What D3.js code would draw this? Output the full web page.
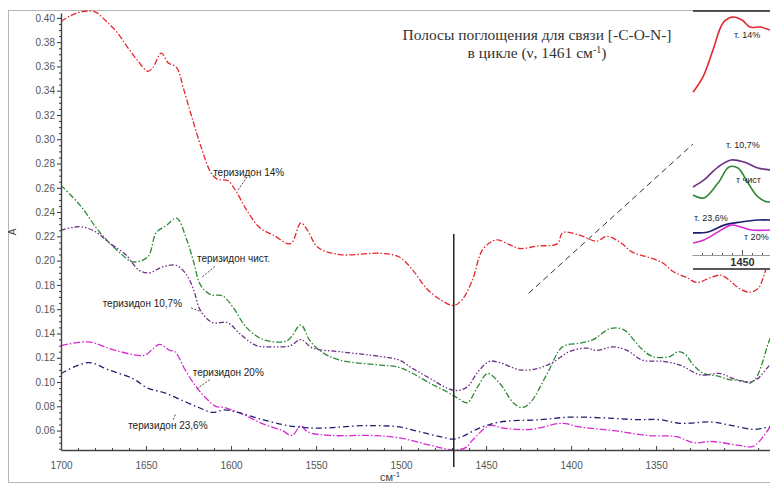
<!DOCTYPE html>
<html><head><meta charset="utf-8">
<script src="https://cdn.jsdelivr.net/npm/d3@7"></script>
<style>body{margin:0;background:#fff}</style>
</head><body><svg id="c" width="770" height="484"></svg>
<script>
// ---- data (wavenumber cm-1, absorbance A) ----
const xTicks = [1700,1650,1600,1550,1500,1450,1400,1350];
const yTicks = [0.06,0.08,0.10,0.12,0.14,0.16,0.18,0.20,0.22,0.24,0.26,0.28,0.30,0.32,0.34,0.36,0.38,0.40];

const ter14 = [[1700,0.397],[1694,0.402],[1688,0.405],[1680,0.405],[1674,0.398],[1667,0.388],[1661,0.376],[1655,0.365],[1649,0.356],[1646,0.359],[1641,0.371],[1637,0.363],[1632,0.359],[1628,0.342],[1623,0.318],[1617,0.291],[1612,0.273],[1608,0.267],[1602,0.266],[1597,0.257],[1591,0.242],[1583,0.227],[1575,0.221],[1565,0.214],[1559,0.231],[1555,0.225],[1549,0.211],[1536,0.205],[1512,0.206],[1501,0.203],[1493,0.192],[1485,0.177],[1477,0.168],[1469,0.163],[1464,0.168],[1458,0.184],[1452,0.209],[1444,0.217],[1436,0.213],[1430,0.210],[1420,0.212],[1408,0.214],[1405,0.223],[1395,0.221],[1385,0.216],[1379,0.220],[1371,0.215],[1364,0.207],[1355,0.203],[1346,0.198],[1340,0.191],[1332,0.186],[1326,0.182],[1318,0.186],[1312,0.188],[1307,0.184],[1301,0.177],[1295,0.174],[1290,0.177],[1287,0.186],[1283,0.205]];
const terPure = [[1700,0.262],[1689,0.246],[1677,0.223],[1665,0.206],[1658,0.199],[1649,0.203],[1644,0.223],[1638,0.229],[1632,0.235],[1626,0.217],[1622,0.199],[1618,0.180],[1612,0.172],[1605,0.171],[1599,0.162],[1591,0.145],[1581,0.135],[1567,0.134],[1559,0.147],[1554,0.135],[1548,0.126],[1536,0.118],[1512,0.114],[1501,0.112],[1493,0.107],[1483,0.099],[1473,0.092],[1467,0.087],[1461,0.083],[1455,0.096],[1449,0.107],[1442,0.099],[1434,0.083],[1429,0.079],[1424,0.083],[1414,0.107],[1405,0.129],[1395,0.132],[1387,0.135],[1377,0.144],[1369,0.143],[1359,0.128],[1352,0.121],[1342,0.121],[1337,0.125],[1333,0.123],[1328,0.114],[1322,0.107],[1314,0.105],[1307,0.102],[1299,0.101],[1295,0.099],[1291,0.104],[1287,0.118],[1284,0.132],[1280,0.145]];
const ter107 = [[1700,0.225],[1689,0.228],[1680,0.224],[1671,0.214],[1662,0.205],[1654,0.192],[1648,0.190],[1640,0.195],[1632,0.196],[1626,0.188],[1622,0.176],[1618,0.159],[1611,0.149],[1602,0.149],[1595,0.140],[1585,0.130],[1575,0.129],[1565,0.130],[1559,0.135],[1552,0.128],[1536,0.125],[1512,0.121],[1501,0.118],[1493,0.111],[1483,0.103],[1473,0.095],[1467,0.093],[1461,0.096],[1455,0.108],[1448,0.117],[1442,0.116],[1430,0.110],[1420,0.111],[1411,0.116],[1401,0.125],[1391,0.128],[1385,0.126],[1375,0.129],[1367,0.126],[1358,0.118],[1346,0.117],[1336,0.114],[1324,0.106],[1312,0.107],[1305,0.103],[1297,0.100],[1291,0.102],[1285,0.111],[1280,0.120]];
const ter20 = [[1700,0.130],[1684,0.133],[1668,0.126],[1651,0.122],[1647,0.126],[1642,0.131],[1636,0.126],[1633,0.125],[1627,0.110],[1621,0.097],[1615,0.087],[1609,0.080],[1604,0.079],[1594,0.074],[1582,0.066],[1570,0.060],[1564,0.056],[1559,0.064],[1555,0.059],[1542,0.056],[1518,0.056],[1501,0.054],[1483,0.048],[1474,0.045],[1468,0.044],[1462,0.046],[1458,0.052],[1448,0.064],[1440,0.062],[1424,0.061],[1405,0.066],[1395,0.063],[1375,0.060],[1355,0.056],[1338,0.055],[1328,0.050],[1317,0.051],[1302,0.048],[1293,0.047],[1287,0.055],[1283,0.063]];
const ter236 = [[1700,0.107],[1684,0.116],[1672,0.110],[1658,0.103],[1649,0.095],[1639,0.091],[1629,0.085],[1619,0.079],[1611,0.075],[1604,0.077],[1596,0.075],[1584,0.070],[1570,0.065],[1561,0.063],[1548,0.062],[1524,0.064],[1512,0.064],[1501,0.063],[1489,0.059],[1477,0.055],[1469,0.053],[1464,0.055],[1454,0.062],[1442,0.067],[1418,0.069],[1402,0.071],[1391,0.071],[1375,0.070],[1361,0.069],[1348,0.069],[1336,0.066],[1317,0.067],[1305,0.064],[1293,0.061],[1287,0.062],[1283,0.063]];

const seriesNames = ["теризидон 14%","теризидон чист.","теризидон 10,7%","теризидон 20%","теризидон 23,6%"];
const seriesColors = ["#e3262e","#2f8a36","#6b2f86","#d62ad3","#1f1f72"];
// label anchor [wn, A], leader from [wn,A] to [wn,A]
const labelPos = [[1610.5,0.270],[1620,0.199],[1675.5,0.162],[1622.5,0.105],[1660.5,0.061]];
const leaders = [[[1590.5,0.269],[1596.5,0.257]],[[1609.5,0.195],[1617.5,0.186]],[[1623.5,0.161],[1617.5,0.158]],[[1612.5,0.102],[1620.5,0.094]],[[1634,0.069],[1632.5,0.074]]];
const bandWn = 1469;          // marked band position
const bandRange = [0.222,0.030];
const arrowLine = [[1425,0.173],[1326,0.299]];

// inset (zoom of band region), relative units 0..100
const insetTick = [1450];
const insetNames = ["т. 14%","т. 10,7%","т чист","т. 23,6%","т 20%"];
const in14 = [[1474.5,67],[1469.5,73.3],[1464.5,84.4],[1459.5,95.5],[1455,97.9],[1450,96.7],[1446,93.8],[1441,93.8],[1436,92.6]];
const in107 = [[1474.5,28],[1469,30.9],[1462,36.2],[1455.5,39.1],[1449,38.3],[1442,35.8],[1435.5,35]];
const inPure = [[1474.5,24.7],[1469,23.5],[1462,29.6],[1456.5,36.2],[1452,35.8],[1447,29.6],[1442,23.9],[1437,21.8],[1435.5,22.2]];
const in236 = [[1474.5,9.1],[1467,9.5],[1459,12.3],[1450.5,13.6],[1442,14.4],[1435.5,14.4]];
const in20 = [[1474.5,4.9],[1469,6.2],[1462,9.5],[1455.5,12.3],[1450.5,11.5],[1445.5,10.3],[1435.5,10.3]];
const insetLabelPos = [[1454,89.5],[1458,44],[1453,29.5],[1474,14],[1449,6]];

// ---- drawing ----
const svg = d3.select("#c");
const x = d3.scaleLinear().domain([1700,1283]).range([61,770]);
const y = d3.scaleLinear().domain([0.044,0.404]).range([450,13]);

svg.append("rect").attr("x",8.5).attr("y",10.5).attr("width",800).attr("height",472)
  .attr("fill","none").attr("stroke","#b5b5b5");

svg.append("clipPath").attr("id","plot").append("rect").attr("x",61).attr("y",8).attr("width",720).attr("height",445);

const line = d3.line().x(d=>x(d[0])).y(d=>y(d[1])).curve(d3.curveCatmullRom.alpha(0.5));
const allSeries = [ter14,terPure,ter107,ter20,ter236];
const dashes = ["6,2,1.5,2","6,2,1.5,2","5,2,1.5,2,1.5,2","7,2,1.5,2","6,3,1.5,3"];
const gLines = svg.append("g").attr("clip-path","url(#plot)");
allSeries.forEach((s,i)=>{
  gLines.append("path").attr("d",line(s)).attr("fill","none")
    .attr("stroke",seriesColors[i]).attr("stroke-width",1.3)
    .attr("stroke-dasharray",dashes[i]);
});

// axes
const yMinor = d3.range(0.045,0.4005,0.005).filter(v=>Math.abs(Math.round(v*50)-v*50)>0.01);
svg.append("g").attr("transform","translate(61,0)")
  .call(d3.axisLeft(y).tickValues(yMinor).tickSize(2).tickFormat(""))
  .call(g=>{g.select(".domain").remove(); g.selectAll("line").attr("stroke","#333");});
const ya = svg.append("g").attr("transform","translate(61,0)")
  .call(d3.axisLeft(y).tickValues(yTicks).tickSize(4).tickSizeOuter(0).tickPadding(2).tickFormat(d3.format(".2f")));
ya.select(".domain").attr("stroke","#444").attr("stroke-width",1.4);
ya.selectAll("line").attr("stroke","#333");
ya.selectAll("text").attr("font-family","Liberation Sans, Arial, sans-serif").attr("font-size",10).attr("fill","#555");

const xMinor = d3.range(1290,1700,10).filter(v=>v%50!==0);
svg.append("g").attr("transform","translate(0,450)")
  .call(d3.axisBottom(x).tickValues(xMinor).tickSize(-2).tickFormat(""))
  .call(g=>{g.select(".domain").remove(); g.selectAll("line").attr("stroke","#444");});
const xa = svg.append("g").attr("transform","translate(0,450)")
  .call(d3.axisBottom(x).tickValues(xTicks).tickSize(-4).tickSizeOuter(0).tickPadding(12).tickFormat(d3.format("d")));
xa.select(".domain").attr("stroke","#444").attr("stroke-width",1.4);
xa.selectAll("line").attr("stroke","#444");
xa.selectAll("text").attr("font-family","Liberation Sans, Arial, sans-serif").attr("font-size",10).attr("fill","#555");

// axis titles
const xt = svg.append("text").attr("x",390).attr("y",481).attr("text-anchor","middle")
  .attr("font-family","Liberation Sans, Arial, sans-serif").attr("font-size",11).attr("fill","#444").text("см");
xt.append("tspan").attr("dy",-4).attr("font-size",8).text("-1");
svg.append("text").attr("transform","translate(16,232) rotate(-90)").attr("text-anchor","middle")
  .attr("font-family","Liberation Sans, Arial, sans-serif").attr("font-size",10).attr("fill","#444").text("A");

// band line and arrow
svg.append("line").attr("x1",x(bandWn)).attr("x2",x(bandWn)).attr("y1",y(bandRange[0])).attr("y2",y(bandRange[1]))
  .attr("stroke","#222").attr("stroke-width",1.5);
svg.append("line").attr("x1",x(arrowLine[0][0])).attr("y1",y(arrowLine[0][1]))
  .attr("x2",x(arrowLine[1][0])).attr("y2",y(arrowLine[1][1]))
  .attr("stroke","#333").attr("stroke-width",1).attr("stroke-dasharray","6,4");

// series labels
seriesNames.forEach((n,i)=>{
  svg.append("text").attr("x",x(labelPos[i][0])).attr("y",y(labelPos[i][1]))
    .attr("font-family","Liberation Sans, Arial, sans-serif").attr("font-size",10).attr("fill","#222").text(n);
  const l = leaders[i];
  svg.append("line").attr("x1",x(l[0][0])).attr("y1",y(l[0][1])).attr("x2",x(l[1][0])).attr("y2",y(l[1][1]))
    .attr("stroke","#333").attr("stroke-width",0.9).attr("stroke-dasharray","2,1.5");
});

// title
const title = svg.append("text").attr("text-anchor","middle").attr("font-family","Liberation Serif, Times New Roman, serif")
  .attr("font-size",15.5).attr("fill","#333");
title.append("tspan").attr("x",537).attr("y",40).text("Полосы поглощения для связи [-C-O-N-]");
const t2 = title.append("tspan").attr("x",537).attr("y",58).text("в цикле (ν, 1461 см");
t2.append("tspan").attr("dy",-5).attr("font-size",10).text("-1");
t2.append("tspan").attr("dy",5).text(")");

// inset
const ix = d3.scaleLinear().domain([1475,1436]).range([692,770]);
const iy = d3.scaleLinear().domain([0,100]).range([255,12]);
svg.append("rect").attr("x",693).attr("y",11).attr("width",80).attr("height",259).attr("fill","#fff");
svg.append("line").attr("x1",693).attr("x2",770).attr("y1",11).attr("y2",11).attr("stroke","#222").attr("stroke-width",1.6);
svg.append("line").attr("x1",693).attr("x2",770).attr("y1",269).attr("y2",269).attr("stroke","#222").attr("stroke-width",1.6);
const ia = svg.append("g").attr("transform","translate(0,255)")
  .call(d3.axisBottom(ix).tickValues(insetTick).tickSize(-5).tickSizeOuter(0).tickPadding(3).tickFormat(d3.format("d")));
ia.select(".domain").attr("stroke","#999").attr("stroke-width",1.2);
ia.selectAll("line").attr("stroke","#555");
ia.selectAll("text").attr("font-family","Liberation Sans, Arial, sans-serif").attr("font-size",11).attr("font-weight","bold").attr("fill","#333");
svg.append("g").attr("transform","translate(0,255)")
  .call(d3.axisBottom(ix).tickValues([1470,1465,1460,1455,1445,1440]).tickSize(-2).tickFormat(""))
  .call(g=>{g.select(".domain").remove(); g.selectAll("line").attr("stroke","#666");});
const iline = d3.line().x(d=>ix(d[0])).y(d=>iy(d[1])).curve(d3.curveCatmullRom.alpha(0.5));
const insetSeries = [in14,in107,inPure,in236,in20];
const insetColors = [seriesColors[0],seriesColors[2],seriesColors[1],seriesColors[4],seriesColors[3]];
insetSeries.forEach((s,i)=>{
  svg.append("path").attr("d",iline(s)).attr("fill","none").attr("stroke",insetColors[i]).attr("stroke-width",1.6);
});
insetNames.forEach((n,i)=>{
  svg.append("text").attr("x",ix(insetLabelPos[i][0])).attr("y",iy(insetLabelPos[i][1]))
    .attr("font-family","Liberation Sans, Arial, sans-serif").attr("font-size",9).attr("fill","#222").text(n);
});
</script></body></html>
